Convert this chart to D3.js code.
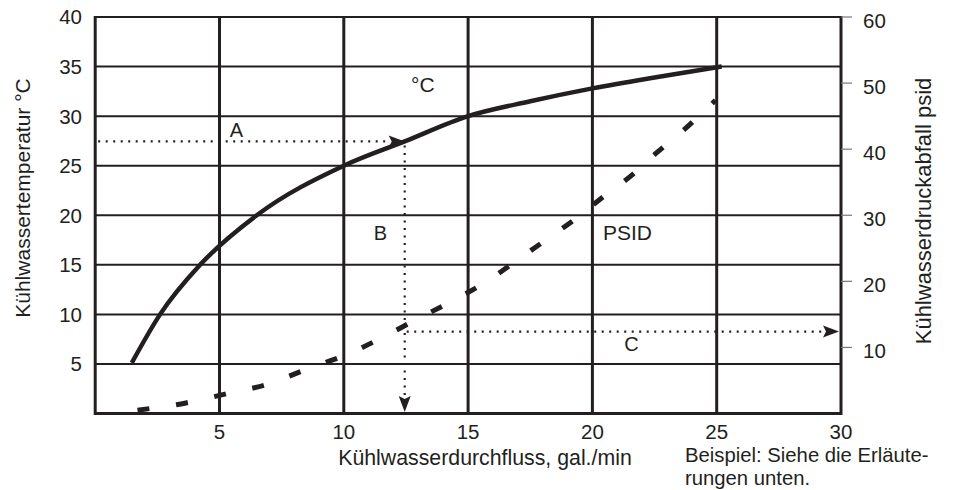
<!DOCTYPE html>
<html><head><meta charset="utf-8">
<script src="https://cdn.jsdelivr.net/npm/d3@7"></script>
<style>
html,body{margin:0;padding:0;background:#fff;}
text{font-family:"Liberation Sans",Arial,sans-serif;fill:#231f20;}
</style></head>
<body>
<svg id="chart" width="956" height="490"></svg>
<script>
// ---- data ----
const flowTicks = [5, 10, 15, 20, 25, 30];
const tempTicks = [5, 10, 15, 20, 25, 30, 35, 40];
const psidTicks = [10, 20, 30, 40, 50, 60];
const tempFlow  = [1.47, 2.61, 4.22, 6.5, 10, 12.45, 15, 17.5, 20, 22.5, 25.2];
const tempValue = [5.1, 10, 15, 20, 25, 27.45, 30, 31.5, 32.8, 33.9, 35];
const psidFlow  = [1.7, 3.65, 5.3, 7.0, 8.5, 10.1, 11.5, 12.9, 14.3, 15.8, 16.9, 18.1, 19.3, 20.4, 21.6, 22.6, 23.7, 24.95];
const psidValue = [0.5, 1.6, 3.0, 4.5, 6.7, 8.9, 11.4, 14.2, 16.9, 20.1, 23.0, 26.2, 29.4, 32.7, 36.1, 39.5, 43.0, 47.4];
const exampleFlow = 12.45, exampleTemp = 27.45, examplePsid = 12.4;
const labels = {
  yLeft: "Kühlwassertemperatur °C",
  yRight: "Kühlwasserdruckabfall psid",
  x: "Kühlwasserdurchfluss, gal./min",
  note1: "Beispiel: Siehe die Erläute-",
  note2: "rungen unten.",
  tempCurve: "°C", psidCurve: "PSID"
};

// ---- drawing ----
const ink = "#231f20";
const svg = d3.select("#chart");
const x  = d3.scaleLinear().domain([0, 30]).range([95.2, 841]);
const yT = d3.scaleLinear().domain([0, 40]).range([413.5, 17]);
const yP = d3.scaleLinear().domain([0, 60]).range([413.5, 17]);

const g = svg.append("g");
g.selectAll("line.h").data(tempTicks).enter().append("line")
  .attr("x1", x(0)).attr("x2", x(30))
  .attr("y1", d => yT(d)).attr("y2", d => yT(d))
  .attr("stroke", ink).attr("stroke-width", 2);
g.selectAll("line.v").data(flowTicks.filter(d => d < 30)).enter().append("line")
  .attr("x1", d => x(d)).attr("x2", d => x(d))
  .attr("y1", yT(0)).attr("y2", yT(40))
  .attr("stroke", ink).attr("stroke-width", 3);
g.append("line").attr("x1", x(0)).attr("x2", x(0)).attr("y1", yT(0) + 1.5).attr("y2", yT(40) - 1).attr("stroke", ink).attr("stroke-width", 3);
g.append("line").attr("x1", x(30)).attr("x2", x(30)).attr("y1", yT(0) + 1.5).attr("y2", yT(40) - 1).attr("stroke", ink).attr("stroke-width", 3);
g.append("line").attr("x1", x(0)).attr("x2", x(30)).attr("y1", yT(0)).attr("y2", yT(0)).attr("stroke", ink).attr("stroke-width", 3);

// left axis labels
svg.append("g").selectAll("text").data(tempTicks).enter().append("text")
  .attr("x", 82).attr("y", d => yT(d)).attr("dy", "0.36em")
  .attr("text-anchor", "end").attr("font-size", 20.5).text(d => d);
// right axis ticks + labels
const ra = svg.append("g");
ra.selectAll("line").data(psidTicks).enter().append("line")
  .attr("x1", x(30)).attr("x2", x(30) + 11)
  .attr("y1", d => yP(d)).attr("y2", d => yP(d))
  .attr("stroke", "#777").attr("stroke-width", 1.2);
ra.selectAll("text").data(psidTicks).enter().append("text")
  .attr("x", 863).attr("y", d => yP(d) + 3.5).attr("dy", "0.36em")
  .attr("font-size", 20.5).text(d => d);
// bottom axis labels
svg.append("g").selectAll("text").data(flowTicks).enter().append("text")
  .attr("x", d => x(d)).attr("y", 438.5)
  .attr("text-anchor", "middle").attr("font-size", 20.5).text(d => d);

// axis titles
svg.append("text").attr("transform", "translate(23,198) rotate(-90)")
  .attr("dy", "0.35em").attr("text-anchor", "middle").attr("font-size", 21).text(labels.yLeft);
svg.append("text").attr("transform", "translate(923,211) rotate(-90)")
  .attr("dy", "0.35em").attr("text-anchor", "middle").attr("font-size", 22).text(labels.yRight);
svg.append("text").attr("x", 485).attr("y", 465).attr("text-anchor", "middle").attr("font-size", 21.3).text(labels.x);
svg.append("text").attr("x", 685).attr("y", 462).attr("font-size", 20.3).text(labels.note1);
svg.append("text").attr("x", 685).attr("y", 485).attr("font-size", 20.3).text(labels.note2);

// curves
const tempData = tempFlow.map((f, i) => [f, tempValue[i]]);
const psidData = psidFlow.map((f, i) => [f, psidValue[i]]);
svg.append("path").datum(tempData)
  .attr("d", d3.line().x(d => x(d[0])).y(d => yT(d[1])).curve(d3.curveMonotoneX))
  .attr("fill", "none").attr("stroke", ink).attr("stroke-width", 4.5);
svg.append("path").datum(psidData)
  .attr("d", d3.line().x(d => x(d[0])).y(d => yP(d[1])).curve(d3.curveMonotoneX))
  .attr("fill", "none").attr("stroke", ink).attr("stroke-width", 5)
  .attr("stroke-dasharray", "12,27");

// example dotted lines with arrows
const dotted = (x1, y1, x2, y2) => svg.append("line")
  .attr("x1", x1).attr("y1", y1).attr("x2", x2).attr("y2", y2)
  .attr("stroke", ink).attr("stroke-width", 2.2).attr("stroke-dasharray", "2,5.5");
const arrow = (tx, ty, dir) => {
  const L = 16, W = 6;
  let pts;
  if (dir === "right") pts = [[tx, ty], [tx - L, ty - W], [tx - L + 3, ty], [tx - L, ty + W]];
  else pts = [[tx, ty], [tx - W, ty - L], [tx, ty - L + 3], [tx + W, ty - L]];
  svg.append("path").attr("d", "M" + pts.map(p => p.join(",")).join("L") + "Z").attr("fill", ink);
};
const ex = x(exampleFlow), eyT = yT(exampleTemp), eyP = yP(examplePsid);
dotted(x(0) + 3, eyT, ex - 14, eyT);
arrow(ex, eyT, "right");
dotted(ex, eyT + 4, ex, yT(0) - 14);
arrow(ex, yT(0) - 1.5, "down");
dotted(ex + 2, eyP, x(30) - 16, eyP);
arrow(x(30) - 2, eyP, "right");

// annotation letters
const ann = [["A", 236.5, 137], ["B", 380.5, 240], ["C", 631.5, 351]];
svg.selectAll("text.ann").data(ann).enter().append("text")
  .attr("x", d => d[1]).attr("y", d => d[2]).attr("text-anchor", "middle")
  .attr("font-size", 20).text(d => d[0]);
svg.append("text").attr("x", 411).attr("y", 92).attr("font-size", 21).text(labels.tempCurve);
svg.append("text").attr("x", 603).attr("y", 240).attr("font-size", 21).text(labels.psidCurve);
</script>
</body></html>
